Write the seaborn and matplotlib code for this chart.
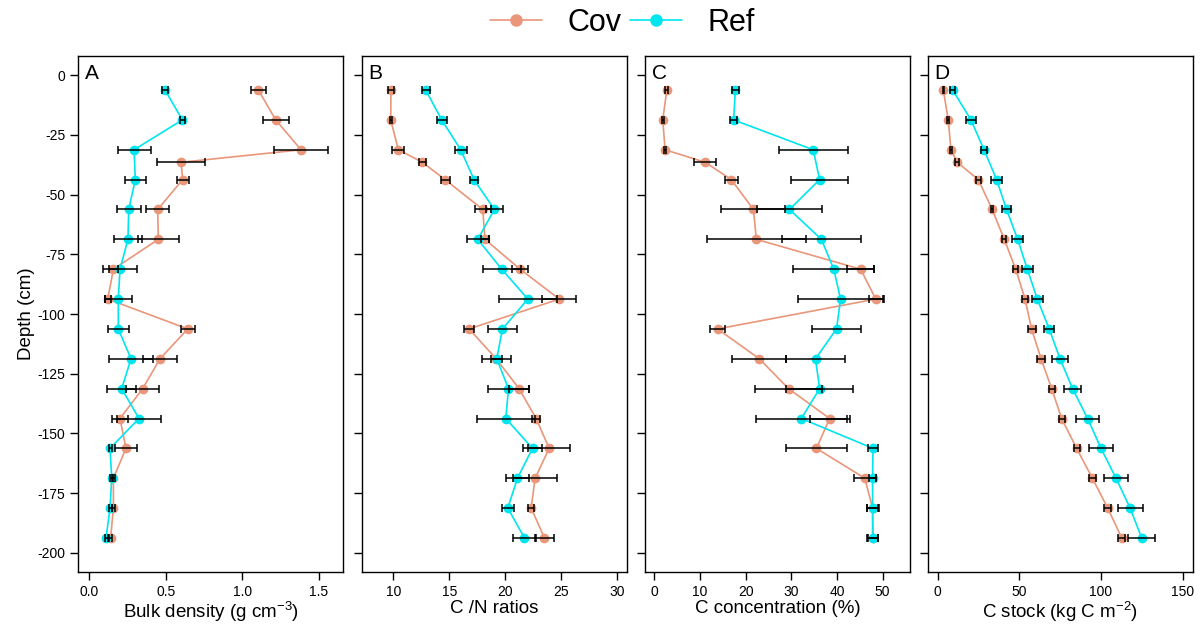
import numpy as np
import pandas as pd
import matplotlib
matplotlib.use("Agg")
import matplotlib.pyplot as plt
from matplotlib.lines import Line2D
import seaborn as sns

# Sampling depths (cm); the Cov profile has one extra sample at -36.5 cm
depth_cov = [-6.25, -18.75, -31.25, -36.5, -43.75, -56.25, -68.75, -81.25, -93.75,
             -106.25, -118.75, -131.25, -143.75, -156.25, -168.75, -181.25, -193.75]
depth_ref = [-6.25, -18.75, -31.25, -43.75, -56.25, -68.75, -81.25, -93.75,
             -106.25, -118.75, -131.25, -143.75, -156.25, -168.75, -181.25, -193.75]

# A: bulk density (g cm-3)
bd_cov = [1.105, 1.218, 1.383, 0.600, 0.611, 0.448, 0.452, 0.159, 0.122,
          0.644, 0.463, 0.350, 0.202, 0.241, 0.159, 0.159, 0.141]
bd_cov_se = [0.048, 0.085, 0.175, 0.155, 0.040, 0.076, 0.134, 0.030, 0.020,
             0.047, 0.113, 0.109, 0.050, 0.070, 0.010, 0.010, 0.012]
bd_ref = [0.496, 0.609, 0.294, 0.302, 0.259, 0.254, 0.202, 0.191,
          0.191, 0.274, 0.213, 0.326, 0.137, 0.148, 0.137, 0.111]
bd_ref_se = [0.020, 0.016, 0.108, 0.068, 0.078, 0.090, 0.109, 0.089,
             0.068, 0.141, 0.094, 0.141, 0.010, 0.010, 0.010, 0.010]

# B: C/N ratios
cn_cov = [9.79, 9.77, 10.45, 12.6, 14.63, 18.0, 18.2, 21.34, 24.84,
          16.78, 19.2, 21.25, 22.77, 23.94, 22.68, 22.33, 23.52]
cn_cov_se = [0.25, 0.10, 0.54, 0.30, 0.40, 0.70, 0.40, 0.70, 1.50,
             0.42, 0.50, 0.90, 0.35, 1.90, 2.00, 0.25, 0.85]
cn_ref = [12.9, 14.33, 16.03, 17.22, 19.04, 17.55, 19.7, 22.03,
          19.76, 19.25, 20.3, 20.06, 22.45, 21.1, 20.24, 21.73]
cn_ref_se = [0.35, 0.45, 0.52, 0.35, 0.75, 1.00, 1.70, 2.60,
             1.30, 1.30, 1.85, 2.60, 0.88, 1.00, 0.55, 1.00]

# C: carbon concentration (%)
cc_cov = [2.72, 1.84, 2.35, 11.15, 16.86, 21.7, 22.35, 45.2, 48.5,
          13.85, 23.0, 29.4, 38.4, 35.5, 46.1, 47.8, 47.8]
cc_cov_se = [0.3, 0.2, 0.3, 2.4, 1.4, 7.0, 10.8, 2.9, 1.5,
             1.6, 5.9, 7.3, 4.4, 6.6, 2.4, 1.3, 1.2]
cc_ref = [17.74, 17.37, 34.8, 36.2, 29.6, 36.6, 39.3, 40.8,
          39.9, 35.3, 36.2, 32.2, 47.9, 47.8, 47.8, 47.9]
cc_ref_se = [0.7, 0.7, 7.6, 6.3, 7.2, 8.6, 8.9, 9.4,
             5.4, 6.5, 7.3, 10.0, 1.0, 0.8, 1.2, 1.1]

# D: cumulative carbon stock (kg C m-2)
cs_cov = [3.47, 6.5, 8.16, 12.0, 24.9, 33.4, 40.8, 47.8, 53.5,
          57.5, 63.3, 69.8, 75.9, 85.1, 94.7, 104.1, 112.7]
cs_cov_se = [0.3, 0.5, 0.5, 1.2, 1.5, 0.5, 1.2, 1.5, 2.0,
             2.4, 2.4, 1.8, 1.8, 1.8, 2.2, 2.2, 2.2]
cs_ref = [9.2, 20.4, 28.4, 36.1, 42.2, 49.0, 54.9, 61.0,
          68.3, 74.9, 82.6, 91.8, 100.0, 109.2, 117.8, 124.9]
cs_ref_se = [1.5, 3.1, 2.0, 3.2, 2.9, 3.3, 3.2, 3.2,
             3.0, 4.6, 5.3, 7.1, 7.4, 7.4, 7.7, 8.4]

sites = ["Cov", "Ref"]
colors = {"Cov": "#E9967A", "Ref": "#00E5EE"}

panels = [
    ("A", "Bulk density (g cm$^{-3}$)", bd_cov, bd_cov_se, bd_ref, bd_ref_se,
     (-0.072, 1.657), [0.0, 0.5, 1.0, 1.5], ["0.0", "0.5", "1.0", "1.5"]),
    ("B", "C /N ratios", cn_cov, cn_cov_se, cn_ref, cn_ref_se,
     (7.2, 30.9), [10, 15, 20, 25, 30], ["10", "15", "20", "25", "30"]),
    ("C", "C concentration (%)", cc_cov, cc_cov_se, cc_ref, cc_ref_se,
     (-2.05, 56.0), [0, 10, 20, 30, 40, 50], ["0", "10", "20", "30", "40", "50"]),
    ("D", "C stock (kg C m$^{-2}$)", cs_cov, cs_cov_se, cs_ref, cs_ref_se,
     (-5.9, 156.3), [0, 50, 100, 150], ["0", "50", "100", "150"]),
]

sns.set_theme(style="ticks")
plt.rcParams["font.family"] = ["Liberation Sans", "DejaVu Sans"]
plt.rcParams["mathtext.fontset"] = "custom"
plt.rcParams["mathtext.rm"] = "Liberation Sans"
plt.rcParams["mathtext.it"] = "Liberation Sans:italic"
plt.rcParams["text.color"] = "black"
plt.rcParams["axes.labelcolor"] = "black"
plt.rcParams["xtick.color"] = "black"
plt.rcParams["ytick.color"] = "black"

W, H = 1204, 626
fig = plt.figure(figsize=(W / 100, H / 100), dpi=100)

lefts = [78, 362, 645, 928]
width_px = 265
top_px, bottom_px = 56, 572

yticks = [0, -25, -50, -75, -100, -125, -150, -175, -200]

for i, (letter, xlabel, vc, ec, vr, er, xlim, xt, xtl) in enumerate(panels):
    ax = fig.add_axes([lefts[i] / W, 1 - bottom_px / H,
                       width_px / W, (bottom_px - top_px) / H])
    df = pd.concat([
        pd.DataFrame({"depth": depth_cov, "value": vc, "se": ec, "site": "Cov"}),
        pd.DataFrame({"depth": depth_ref, "value": vr, "se": er, "site": "Ref"}),
    ], ignore_index=True)

    sns.lineplot(data=df, x="value", y="depth", hue="site", hue_order=sites,
                 palette=colors, orient="y", estimator=None, sort=True,
                 marker="o", markersize=7, markeredgewidth=0, linewidth=1.2,
                 legend=False, ax=ax, zorder=2)
    for s in sites:
        sub = df[df["site"] == s]
        ax.errorbar(sub["value"], sub["depth"], xerr=sub["se"], fmt="none",
                    ecolor="black", elinewidth=1.1, capsize=3, capthick=1.1,
                    zorder=3)

    ax.set_xlim(*xlim)
    ax.set_ylim(-208, 8)
    ax.set_xticks(xt)
    ax.set_xticklabels(xtl)
    ax.set_yticks(yticks)
    if i == 0:
        ax.set_yticklabels([str(t) for t in yticks])
        ax.set_ylabel("Depth (cm)", fontsize=13.5, labelpad=2)
    else:
        ax.set_yticklabels([])
        ax.set_ylabel("")
    ax.set_xlabel(xlabel, fontsize=13.5, labelpad=1)
    ax.tick_params(axis="both", direction="out", length=6, width=1,
                   color="black", labelsize=10, pad=3, labelcolor="black")
    for sp in ax.spines.values():
        sp.set_visible(True)
        sp.set_color("black")
        sp.set_linewidth(1.0)
    ax.text(0.025, 0.985, letter, transform=ax.transAxes, ha="left", va="top",
            fontsize=15, color="black")

handles = [Line2D([0], [0], color=colors[s], marker="o", markersize=9,
                  markeredgewidth=0, linewidth=1.2) for s in sites]
fig.legend(handles, sites, loc="upper center", bbox_to_anchor=(0.517, 1.012),
           ncol=2, frameon=False, fontsize=22, handlelength=1.7,
           handletextpad=0.85, columnspacing=0.25, borderaxespad=0.1)

fig.savefig("out.png", dpi=100)
